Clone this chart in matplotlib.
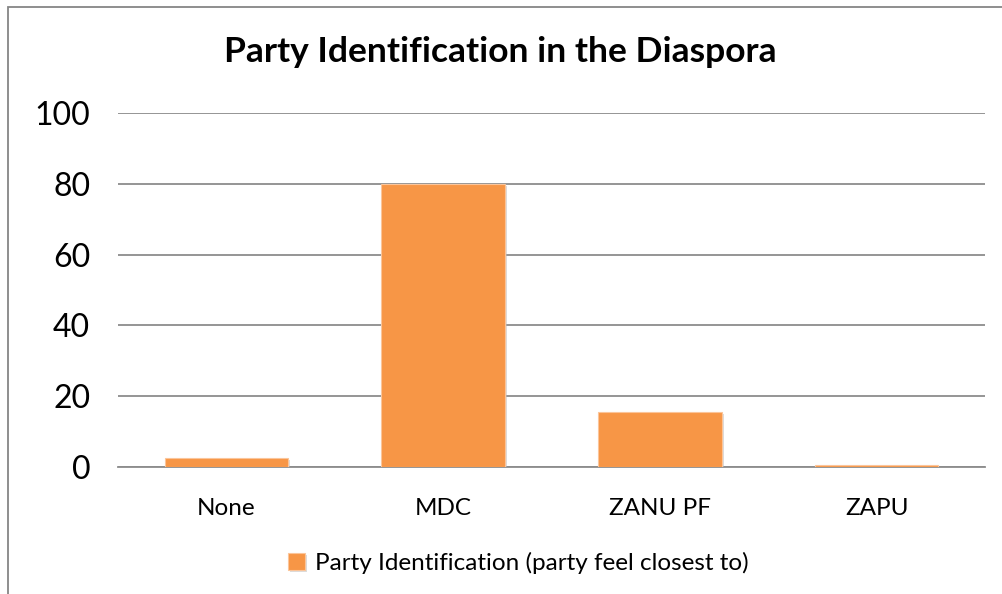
import numpy as np
import matplotlib.pyplot as plt
import matplotlib.patheffects as pe
from matplotlib.patches import Rectangle

categories = ['None', 'MDC', 'ZANU PF', 'ZAPU']
values = [2.6, 80, 15.5, 0.6]
series_name = 'Party Identification (party feel closest to)'
title = 'Party Identification in the Diaspora'

plt.rcParams['font.family'] = ['Lato', 'DejaVu Sans']

fig = plt.figure(figsize=(10.03, 5.94), dpi=100)
ax = fig.add_axes([118/1003, 1 - 467/594, 867/1003, 354/594])

x = np.arange(len(categories))
bars = ax.bar(x, values, width=0.57, color='#F79646', edgecolor='#FBC59A',
              linewidth=0.8, label=series_name, zorder=3)
for b in bars:
    b.set_path_effects([pe.SimplePatchShadow(offset=(1.5, -1.5), shadow_rgbFace='#BBBBBB', alpha=0.5),
                        pe.Normal()])

ax.set_xlim(-0.5, len(categories) - 0.5)
ax.set_ylim(0, 100)
ax.set_yticks([0, 20, 40, 60, 80, 100])
ax.set_xticks(x)
ax.set_xticklabels(categories, fontsize=17.5)
ax.tick_params(axis='y', labelsize=23, length=0, pad=20)
ax.tick_params(axis='x', length=0, pad=22)
ax.grid(axis='y', color='#8C8C8C', linewidth=1.3, zorder=0)
for s in ['top', 'right', 'left']:
    ax.spines[s].set_visible(False)
ax.spines['bottom'].set_color('#8C8C8C')
ax.spines['bottom'].set_linewidth(1.3)

fig.text(500/1003, 1 - 52/594, title, ha='center', va='center',
         fontsize=25.5, fontweight='bold')

fig.legend(handles=[bars], labels=[series_name], loc='center',
           bbox_to_anchor=(518/1003, 1 - 563/594), frameon=False,
           fontsize=17.5, handlelength=0.7, handleheight=0.7, handletextpad=0.4)

fig.patches.append(Rectangle((8/1003, -0.1), 1.2, 1 - 7/594 + 0.1,
                             transform=fig.transFigure, fill=False,
                             edgecolor='#868686', linewidth=1.3))

fig.savefig('out.png', dpi=100)
